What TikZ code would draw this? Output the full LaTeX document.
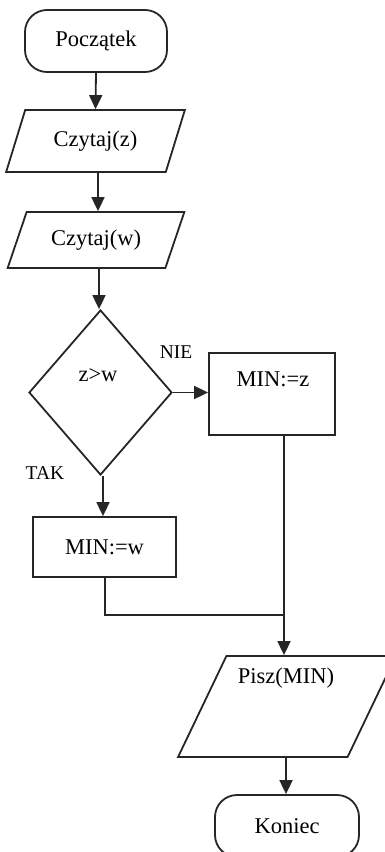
\documentclass[tikz,border=0pt]{standalone}
\usepackage{fontspec}
\setmainfont{Liberation Serif}
\usetikzlibrary{shapes.geometric,arrows.meta}

\tikzset{
  every node/.style={font=\fontsize{22.5}{27}\selectfont, inner sep=0pt},
  line/.style={line width=1.8pt, draw=black!85},
  flow/.style={line, -{Triangle[length=14pt,width=13pt]}},
  terminal/.style={line, rectangle, rounded corners=22pt},
  io/.style={line, trapezium, trapezium stretches=true},
  proc/.style={line, rectangle},
  decision/.style={line, diamond},
  lbl/.style={font=\fontsize{19.5}{23}\selectfont},
}

\begin{document}
\begin{tikzpicture}[x=1pt,y=-1pt]
  \useasboundingbox (0,0) rectangle (385,852);
  \clip (0,0) rectangle (385,852);

  % terminals
  \node[terminal, minimum width=142, minimum height=62] (start) at (96,41) {Początek};
  \node[terminal, minimum width=144, minimum height=62] (stop) at (287,826) {Koniec};

  % input / output
  \node[io, trapezium left angle=61, trapezium right angle=119,
        minimum width=179, minimum height=62] (readz) at (95.5,141) {Czytaj(z)};
  \node[io, trapezium left angle=59, trapezium right angle=121,
        minimum width=177, minimum height=56] (readw) at (96,240) {Czytaj(w)};
  \node[io, trapezium left angle=66.5, trapezium right angle=113.5,
        minimum width=218, minimum height=101] (write) at (287,706.5) {\phantom{x}};
  \node (writeT) at (286,678) {Pisz(MIN)};

  % decision
  \node[decision, minimum width=143, minimum height=165] (cmp) at (100.5,392.5) {};
  \node (cmpT) at (98,375) {z>w};
  \node[lbl] (nie) at (176,352) {NIE};
  \node[lbl] (tak) at (45,473) {TAK};

  % assignments
  \node[proc, minimum width=126, minimum height=82] (minz) at (272,394) {};
  \node (minzT) at (273,379) {MIN:=z};
  \node[proc, minimum width=143, minimum height=60] (minw) at (104.5,547) {MIN:=w};

  % connectors
  \coordinate (join) at (284,615);
  \draw[flow] (start.south) -- (readz.north);
  \draw[flow] (readz.south -| 98,0) -- (readw.north -| 98,0);
  \draw[flow] (readw.south -| 99,0) -- (cmp.north -| 99,0);
  \draw[flow] (cmp.east) -- (minz.west |- cmp.east);
  \draw[flow] (cmp.south -| 103,0) -- (minw.north -| 103,0);
  \draw[line] (minw.south -| 105,0) |- (join);
  \draw[flow] (minz.south -| join) -- (join) -- (write.north -| join);
  \draw[flow] (write.south -| 286,0) -- (stop.north -| 286,0);
\end{tikzpicture}
\end{document}
